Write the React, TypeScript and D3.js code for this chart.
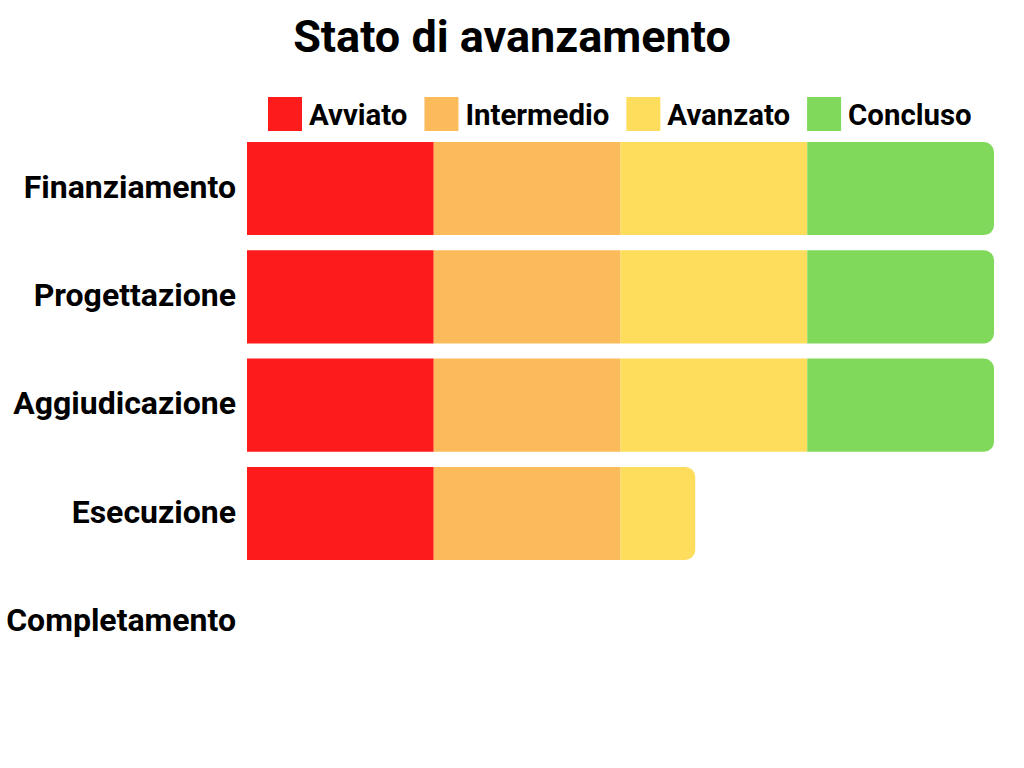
import React, { useEffect, useRef } from "react";
import * as d3 from "d3";

const categories = ["Finanziamento", "Progettazione", "Aggiudicazione", "Esecuzione", "Completamento"];
const stages = ["Avviato", "Intermedio", "Avanzato", "Concluso"];
const avviato = [25, 25, 25, 25, 0];
const intermedio = [25, 25, 25, 25, 0];
const avanzato = [25, 25, 25, 10, 0];
const concluso = [25, 25, 25, 0, 0];
const colors = ["#FE1B1B", "#FCBB5B", "#FEDC5C", "#80D95A"];

const W = 1024, H = 768;
const FONT = "Roboto, 'Noto Sans', sans-serif";

export default function App() {
  const ref = useRef<SVGSVGElement>(null);
  useEffect(() => {
    const svg = d3.select(ref.current!);
    svg.selectAll("*").remove();

    svg.append("text")
      .attr("x", 512).attr("y", 52)
      .attr("text-anchor", "middle")
      .style("font-family", FONT).style("font-weight", 700).style("font-size", "45px")
      .attr("fill", "#000")
      .text("Stato di avanzamento");

    const rows = categories.map((c, i) => ({
      cat: c, Avviato: avviato[i], Intermedio: intermedio[i], Avanzato: avanzato[i], Concluso: concluso[i],
    }));
    const stack = d3.stack<any>().keys(stages)(rows);

    const x = d3.scaleLinear().domain([0, 100]).range([247, 994]);
    const y = d3.scaleBand<string>().domain(categories).range([134.4, 675.9]).paddingInner(0.14).paddingOuter(0.07);

    const r = 10;
    const g = svg.append("g");
    stack.forEach((layer, li) => {
      layer.forEach((d, i) => {
        const x0 = x(d[0]), x1 = x(d[1]);
        if (x1 - x0 <= 0) return;
        const y0 = y(categories[i])!, h = y.bandwidth();
        let last = true;
        for (let k = li + 1; k < stack.length; k++) if (stack[k][i][1] - stack[k][i][0] > 0) last = false;
        let p: string;
        if (last) {
          const rr = Math.min(r, x1 - x0);
          p = `M${x0},${y0}H${x1 - rr}A${rr},${rr} 0 0 1 ${x1},${y0 + rr}V${y0 + h - rr}A${rr},${rr} 0 0 1 ${x1 - rr},${y0 + h}H${x0}Z`;
        } else {
          p = `M${x0},${y0}H${x1}V${y0 + h}H${x0}Z`;
        }
        g.append("path").attr("d", p).attr("fill", colors[li]);
      });
    });

    svg.append("g").selectAll("text").data(categories).join("text")
      .attr("x", 236)
      .attr("y", (d) => y(d)! + y.bandwidth() / 2 - 2)
      .attr("dy", "0.35em")
      .attr("text-anchor", "end")
      .style("font-family", FONT).style("font-weight", 700).style("font-size", "32px")
      .attr("fill", "#000")
      .text((d) => d);

    const lg = svg.append("g");
    let cx = 268;
    stages.forEach((s, i) => {
      lg.append("rect").attr("x", cx).attr("y", 97).attr("width", 34).attr("height", 34).attr("fill", colors[i]);
      const t = lg.append("text")
        .attr("x", cx + 41).attr("y", 115).attr("dy", "0.35em")
        .style("font-family", FONT).style("font-weight", 700).style("font-size", "29.4px")
        .attr("fill", "#000").text(s);
      const w = (t.node() as SVGTextElement).getComputedTextLength();
      cx = cx + 41 + w + 17;
    });
  }, []);
  return (
    <svg ref={ref} width={W} height={H} style={{ display: "block", position: "absolute", left: 0, top: 0, background: "#fff" }} />
  );
}
